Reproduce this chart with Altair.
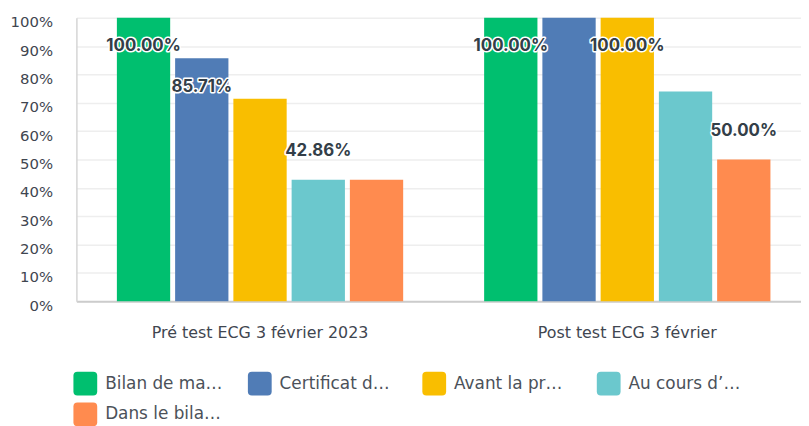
import altair as alt
import pandas as pd

groups = ["Pré test ECG 3 février 2023", "Post test ECG 3 février"]
series = ["Bilan de ma…", "Certificat d…", "Avant la pr…", "Au cours d’…", "Dans le bila…"]
colors = ["#00BF6F", "#507CB6", "#F9BE00", "#6BC8CD", "#FF8B4F"]
pre_values = [1.0, 0.8571, 0.7143, 0.4286, 0.4286]
post_values = [1.0, 1.0, 1.0, 0.74, 0.50]
pre_show = [True, True, False, True, False]
post_show = [True, False, True, False, True]
y_ticks = [i / 10 for i in range(11)]

rows = []
for g, vals, shows in [(groups[0], pre_values, pre_show), (groups[1], post_values, post_show)]:
    for s, v, sh in zip(series, vals, shows):
        rows.append({"group": g, "series": s, "value": v, "show": sh,
                     "label": f"{v * 100:.2f}%"})
df = pd.DataFrame(rows)

TXT = "#333E48"
AXT = "#3F4650"
FONT = "DejaVu Sans"
x_enc = alt.X("group:N", sort=groups,
              scale=alt.Scale(paddingInner=0, paddingOuter=0),
              axis=alt.Axis(title=None, labelAngle=0, ticks=False, tickSize=0,
                            labelPadding=24, labelFontSize=16, labelFont=FONT,
                            labelColor=AXT, labelLimit=400,
                            domainColor="#CCCCCC", domainWidth=2, grid=False))
xo_enc = alt.XOffset("series:N", sort=series,
                     scale=alt.Scale(paddingInner=0.085, paddingOuter=0.695))
y_enc = alt.Y("value:Q", scale=alt.Scale(domain=[0, 1], nice=False),
              axis=alt.Axis(title=None, values=y_ticks, format=".0%", ticks=False,
                            tickSize=0, labelPadding=24, labelFontSize=15,
                            labelOffset=4,
                            labelFont=FONT, labelColor=AXT, labelOverlap=False,
                            domainColor="#D5D5D5", domainWidth=1.5,
                            gridColor="#EEEEEE", gridWidth=1.5))

rounded = ("M-1,-0.66 Q-1,-1 -0.66,-1 L0.66,-1 Q1,-1 1,-0.66 L1,0.66 Q1,1 0.66,1 "
           "L-0.66,1 Q-1,1 -1,0.66 Z")

bars = alt.Chart(df).mark_bar().encode(
    x=x_enc, xOffset=xo_enc, y=y_enc,
    color=alt.Color("series:N", sort=series,
                    scale=alt.Scale(domain=series, range=colors),
                    legend=alt.Legend(title=None, orient="none", legendX=-3, legendY=357,
                                      direction="horizontal", columns=4,
                                      symbolType=rounded, symbolSize=576,
                                      symbolStrokeWidth=0, symbolOpacity=1,
                                      labelFontSize=17, labelFont=FONT,
                                      labelColor="#4B5159", labelOffset=8,
                                      columnPadding=25, rowPadding=7,
                                      gridAlign="all", labelLimit=200)),
)

def labels(cond, dy):
    base = alt.Chart(df).transform_filter(cond).encode(
        x=x_enc, xOffset=xo_enc, y=y_enc, text="label:N")
    halo = base.mark_text(dy=dy, fontSize=17, fontWeight="bold", font="Inter",
                          stroke="white", strokeWidth=3, strokeJoin="round",
                          fill="white", baseline="middle")
    fill = base.mark_text(dy=dy, fontSize=17, fontWeight="bold", font="Inter",
                          fill=TXT, baseline="middle")
    return [halo, fill]

layers = [bars] + labels("datum.show && datum.value >= 0.8", 29) + \
    labels("datum.show && datum.value < 0.8", -29)

chart = alt.layer(*layers).properties(
    width=741, height=286,
    autosize=alt.AutoSizeParams(type="none"),
    padding={"left": 69, "top": 8, "right": -10, "bottom": 128},
).configure_view(stroke=None)

chart.save("out.html", embed_options={"renderer": "svg", "actions": False})
